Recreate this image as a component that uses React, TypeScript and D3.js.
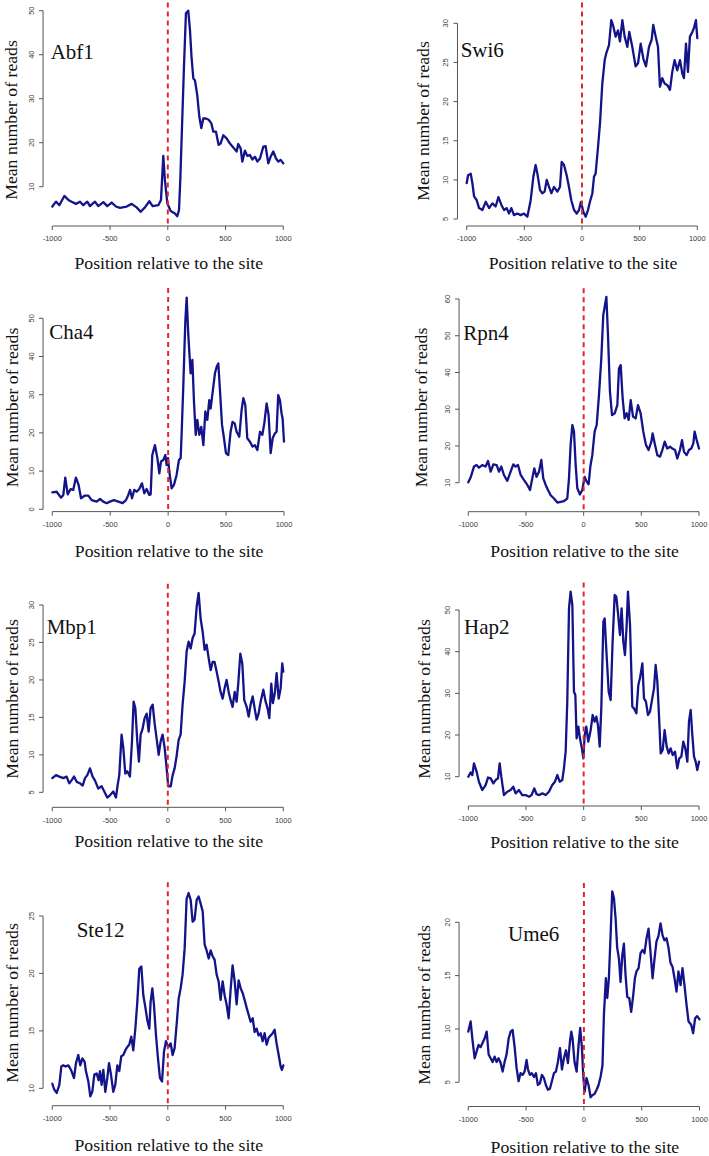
import React from "react";
import * as d3 from "d3";

// ---------- data (position relative to site, mean number of reads) ----------
const xTicks = [-1000, -500, 0, 500, 1000];
const names = ["Abf1", "Swi6", "Cha4", "Rpn4", "Mbp1", "Hap2", "Ste12", "Ume6"];
const xTitle = "Position relative to the site";
const yTitle = "Mean number of reads";

const yTicksAbf1 = [10, 20, 30, 40, 50];
const yTicksSwi6 = [5, 10, 15, 20, 25, 30];
const yTicksCha4 = [0, 10, 20, 30, 40, 50];
const yTicksRpn4 = [10, 20, 30, 40, 50, 60];
const yTicksMbp1 = [5, 10, 15, 20, 25, 30];
const yTicksHap2 = [10, 20, 30, 40, 50];
const yTicksSte12 = [10, 15, 20, 25];
const yTicksUme6 = [5, 10, 15, 20];

const yDomainAbf1 = [1.07, 51.86];
const yDomainSwi6 = [4.11, 32.66];
const yDomainCha4 = [-0.6, 57.91];
const yDomainRpn4 = [2.11, 62.94];
const yDomainMbp1 = [3.0, 32.83];
const yDomainHap2 = [2.97, 56.6];
const yDomainSte12 = [8.49, 27.94];
const yDomainUme6 = [2.73, 23.68];

const abf1: [number, number][] = [[-1000,5.5],[-968,6.6],[-939,5.8],[-896,7.9],[-861,7.0],[-833,6.6],[-795,6.1],[-760,6.6],[-732,5.8],[-697,6.6],[-674,5.6],[-631,6.6],[-602,5.6],[-558,6.5],[-524,5.6],[-486,6.4],[-449,5.5],[-414,5.2],[-356,5.5],[-313,6.1],[-270,5.3],[-235,4.3],[-198,5.3],[-160,6.7],[-131,5.6],[-82,5.8],[-59,7.0],[-39,17.0],[-25,11.5],[-4,6.2],[25,4.5],[62,3.9],[82,3.3],[97,4.7],[108,11.5],[123,23.6],[140,37.3],[157,49.4],[177,50],[192,45.6],[206,39.2],[221,34.6],[235,34.2],[255,30.8],[273,25.9],[290,23.3],[307,25.5],[330,25.5],[354,25.2],[377,24.4],[394,22.5],[417,22.5],[440,19.5],[457,19.8],[481,21.7],[509,21.0],[538,19.8],[567,18.9],[596,18.0],[610,19.7],[631,18.7],[645,15.7],[668,18.2],[688,17.0],[711,17.2],[732,16.2],[755,16.8],[775,15.7],[798,16.4],[827,19.1],[847,19.2],[870,15.3],[890,16.8],[913,18.0],[937,16.4],[957,15.7],[977,16.1],[1000,15.3]];

const swi6: [number, number][] = [[-1000,9.6],[-988,10.6],[-965,10.8],[-951,9.6],[-936,7.9],[-913,7.4],[-893,6.4],[-864,6.15],[-835,7.2],[-806,6.4],[-777,7.0],[-749,6.6],[-725,7.8],[-699,6.8],[-676,6.15],[-653,6.4],[-633,5.7],[-613,6.4],[-590,5.5],[-561,5.7],[-532,5.5],[-503,5.7],[-474,5.3],[-445,7.4],[-422,10.4],[-402,11.9],[-387,10.8],[-364,8.7],[-344,8.3],[-324,8.5],[-306,10.0],[-286,9.1],[-266,8.3],[-243,9.1],[-214,8.5],[-191,9.1],[-176,12.3],[-156,11.9],[-133,10.6],[-113,9.1],[-93,7.4],[-69,6.15],[-46,5.7],[-26,6.15],[-9,7.2],[12,5.9],[32,5.3],[52,6.15],[69,7.2],[90,8.3],[104,10.4],[118,10.8],[139,14.2],[156,17.2],[176,22.3],[197,25.3],[211,26.2],[234,27.2],[254,30.4],[272,29.6],[292,28.3],[312,29.1],[329,27.7],[350,30.4],[370,28.3],[393,27.0],[410,28.9],[436,27.0],[465,24.5],[486,24.9],[509,27.4],[532,25.5],[555,24.5],[581,27.0],[604,27.9],[618,29.8],[639,28.3],[659,27.0],[676,21.9],[696,23.0],[717,22.3],[740,22.1],[763,21.5],[783,23.8],[803,25.3],[826,24.0],[850,25.3],[870,23.6],[884,23.0],[902,27.4],[919,23.8],[936,28.3],[957,28.9],[971,29.4],[988,30.4],[1000,28.1]];

const cha4: [number, number][] = [[-1000,4.45],[-963,4.6],[-925,3.05],[-905,3.75],[-888,8.3],[-867,3.9],[-842,5.3],[-819,5.1],[-796,8.3],[-773,6.4],[-752,2.9],[-718,3.6],[-689,3.6],[-660,2.4],[-617,2.0],[-588,2.7],[-560,2.0],[-531,1.6],[-502,2.0],[-468,2.4],[-430,2.0],[-393,1.6],[-364,2.4],[-344,3.75],[-329,5.1],[-312,2.9],[-292,5.1],[-272,4.6],[-249,5.3],[-226,6.8],[-206,4.2],[-186,5.3],[-163,3.75],[-151,3.9],[-137,14.2],[-114,16.8],[-93,13.4],[-76,9.4],[-62,12.5],[-42,12.9],[-24,14.2],[-13,11.6],[-1,13.4],[10,9.9],[30,5.5],[50,6.4],[73,9.0],[93,12.9],[108,13.4],[117,20.3],[131,32.5],[148,49.1],[160,55.4],[174,45.6],[194,35.6],[209,39.1],[223,28.2],[238,19.5],[252,23.4],[269,19.5],[286,21.6],[304,16.8],[321,25.6],[338,23.4],[355,28.6],[367,26.4],[381,29.9],[404,35.6],[419,37.3],[433,38.2],[448,30.8],[465,22.1],[482,18.6],[499,14.7],[519,14.2],[539,20.3],[556,22.9],[574,22.5],[591,20.3],[614,19.0],[634,26.0],[649,29.1],[666,27.3],[683,18.6],[706,17.7],[729,16.4],[749,16.8],[770,15.5],[793,20.3],[813,19.5],[830,22.5],[850,27.7],[867,24.7],[885,14.7],[902,18.6],[922,19.9],[936,20.3],[950,29.9],[965,28.6],[979,25.1],[988,23.8],[1000,17.7]];

const rpn4: [number, number][] = [[-1000,10.1],[-980,11.4],[-951,14.4],[-928,14.8],[-908,14.1],[-879,14.8],[-850,14.4],[-829,15.9],[-806,13.0],[-783,15.0],[-754,14.8],[-734,13.0],[-714,14.4],[-691,12.1],[-662,10.5],[-633,13.0],[-610,15.0],[-590,14.4],[-569,14.8],[-546,12.1],[-517,10.7],[-488,9.4],[-465,8.0],[-445,11.2],[-428,13.9],[-408,11.6],[-387,13.0],[-367,16.2],[-350,11.2],[-329,9.4],[-309,8.0],[-286,6.6],[-257,5.7],[-228,4.6],[-199,4.8],[-171,5.0],[-142,5.7],[-127,11.2],[-113,20.3],[-98,25.7],[-84,23.9],[-69,14.8],[-55,8.5],[-32,6.8],[-12,8.0],[9,11.6],[26,10.3],[43,9.6],[58,14.4],[75,17.5],[95,23.9],[113,25.7],[133,33.9],[153,43.8],[170,55.6],[185,58.4],[197,60.6],[211,50.2],[228,34.8],[246,28.4],[269,28.9],[292,31.1],[306,41.1],[321,42.0],[338,33.0],[355,27.5],[373,28.9],[390,27.1],[408,32.5],[428,28.0],[451,27.5],[471,31.1],[494,28.9],[517,23.9],[540,20.3],[563,18.9],[587,21.2],[598,23.4],[616,20.7],[639,17.5],[662,17.1],[682,18.9],[703,21.2],[725,19.3],[749,19.8],[769,19.3],[792,18.9],[812,16.6],[835,18.9],[853,21.6],[870,18.4],[893,17.5],[913,18.9],[933,19.3],[951,20.7],[962,23.9],[980,21.6],[1000,19.3]];

const mbp1: [number, number][] = [[-1000,6.9],[-968,7.3],[-939,7.1],[-905,6.9],[-876,7.1],[-853,6.2],[-833,6.6],[-812,7.1],[-789,6.4],[-760,6.2],[-737,5.9],[-717,6.9],[-697,7.3],[-674,8.2],[-651,7.1],[-631,6.6],[-602,5.5],[-573,5.8],[-550,5.1],[-524,4.3],[-501,4.6],[-472,5.1],[-449,4.3],[-434,6.0],[-420,7.3],[-400,12.7],[-385,10.9],[-368,7.5],[-351,7.8],[-328,7.1],[-310,11.8],[-296,17.1],[-281,16.2],[-264,11.8],[-250,9.1],[-235,12.7],[-218,13.5],[-201,14.9],[-183,15.5],[-166,13.1],[-149,16.2],[-131,16.7],[-114,14.2],[-97,12.2],[-79,10.0],[-62,11.8],[-45,12.7],[-27,10.9],[-10,8.2],[4,5.8],[25,5.8],[42,7.3],[59,8.2],[76,9.8],[94,12.0],[111,12.7],[128,16.7],[146,19.8],[163,23.8],[180,25.1],[198,24.2],[215,25.6],[232,26.2],[250,29.8],[267,31.6],[284,28.2],[302,26.4],[319,24.0],[336,24.7],[354,22.9],[371,21.3],[388,22.4],[405,22.4],[423,21.1],[440,19.8],[457,18.4],[475,17.5],[492,18.9],[509,20.0],[527,18.4],[544,17.3],[561,16.4],[579,18.4],[596,17.1],[610,19.5],[628,23.5],[645,22.2],[662,17.3],[683,16.4],[700,15.1],[717,16.7],[735,17.8],[752,16.2],[769,14.7],[786,15.5],[804,17.1],[827,18.7],[847,17.1],[864,16.2],[879,14.9],[896,19.5],[910,16.9],[928,18.4],[942,20.9],[960,17.5],[977,18.9],[991,22.2],[1000,21.1]];

const hap2: [number, number][] = [[-1000,10.0],[-980,11.0],[-965,10.4],[-951,13.2],[-928,11.2],[-908,8.8],[-879,6.8],[-850,8.0],[-829,9.8],[-806,9.6],[-783,8.4],[-763,9.2],[-743,9.6],[-728,13.2],[-714,10.0],[-691,5.6],[-662,6.4],[-633,6.8],[-610,7.6],[-590,6.0],[-561,6.8],[-532,5.6],[-503,5.6],[-474,5.2],[-451,5.6],[-428,7.2],[-408,5.8],[-385,5.6],[-358,6.0],[-329,5.6],[-301,6.4],[-272,8.0],[-249,8.8],[-228,10.4],[-208,8.8],[-185,9.2],[-171,12.0],[-156,16.0],[-142,28.0],[-127,50.4],[-113,54.4],[-98,51.2],[-84,30.4],[-72,29.6],[-61,19.2],[-46,22.0],[-32,19.2],[-15,16.8],[-3,14.4],[9,20.0],[23,22.0],[40,18.4],[61,21.2],[78,24.8],[95,23.2],[110,24.4],[124,22.4],[139,17.2],[153,26.4],[171,47.2],[182,48.0],[199,39.2],[217,30.4],[234,28.4],[251,42.4],[269,53.6],[283,53.2],[298,49.2],[315,44.0],[329,50.4],[344,42.4],[358,39.2],[373,46.4],[384,54.4],[402,46.4],[422,26.8],[436,26.4],[457,25.2],[474,32.0],[488,33.6],[509,37.2],[523,28.8],[540,28.0],[558,24.8],[575,25.6],[595,28.8],[610,31.2],[624,36.8],[639,32.8],[653,24.8],[668,15.6],[685,16.4],[702,21.2],[720,17.2],[737,15.6],[754,16.8],[772,15.2],[792,16.0],[812,12.0],[829,14.4],[847,14.8],[864,18.4],[881,16.8],[899,13.6],[913,23.2],[928,26.0],[942,20.0],[957,14.8],[971,13.6],[985,11.6],[1000,13.6]];

const ste12: [number, number][] = [[-1000,10.4],[-983,9.9],[-962,9.6],[-939,10.3],[-922,11.9],[-905,12.0],[-885,11.9],[-861,12.0],[-838,11.6],[-812,10.9],[-795,12.2],[-775,12.9],[-758,12.0],[-740,12.6],[-720,12.3],[-709,11.5],[-688,10.6],[-671,9.3],[-654,9.7],[-636,11.2],[-616,11.3],[-599,10.7],[-587,11.5],[-573,10.3],[-558,11.6],[-541,9.7],[-524,10.9],[-509,12.2],[-492,11.2],[-472,9.7],[-455,10.3],[-437,12.0],[-420,11.5],[-403,12.8],[-385,12.9],[-368,13.3],[-351,13.6],[-334,13.8],[-316,14.5],[-299,13.3],[-281,15.2],[-264,17.5],[-247,20.4],[-229,20.6],[-212,18.1],[-195,17.1],[-177,15.9],[-160,15.2],[-149,17.5],[-134,18.7],[-120,17.3],[-102,14.6],[-85,12.6],[-68,10.9],[-50,10.6],[-33,13.2],[-16,14.1],[4,13.6],[25,13.9],[42,12.9],[59,13.5],[76,15.5],[94,17.8],[111,18.7],[128,19.9],[146,22.2],[163,26.5],[180,27.0],[198,26.4],[215,24.5],[232,24.7],[250,26.4],[267,26.7],[284,26.1],[302,25.4],[319,22.5],[336,22.0],[354,21.3],[371,22.0],[388,21.5],[405,21.2],[423,19.9],[440,19.3],[457,17.7],[475,19.3],[492,18.1],[509,17.3],[527,16.1],[544,18.6],[561,20.7],[579,19.3],[596,17.3],[613,19.4],[631,18.7],[648,18.3],[665,17.7],[683,17.0],[700,16.4],[717,15.8],[735,16.1],[752,14.9],[769,15.2],[786,14.6],[804,14.8],[821,14.1],[838,14.8],[856,13.8],[873,14.4],[890,14.6],[908,14.8],[925,15.1],[942,13.9],[960,12.9],[977,11.9],[988,11.6],[1000,12.0]];

const ume6: [number, number][] = [[-1000,9.75],[-980,10.7],[-965,9.1],[-945,7.25],[-928,7.9],[-911,8.5],[-893,8.3],[-876,8.7],[-859,9.1],[-841,9.75],[-824,7.6],[-807,7.25],[-790,6.9],[-772,7.4],[-755,6.9],[-738,7.25],[-720,6.8],[-703,6.0],[-686,6.9],[-669,7.6],[-651,9.1],[-634,9.75],[-617,9.9],[-599,8.3],[-582,6.3],[-565,5.1],[-548,5.85],[-530,5.7],[-513,6.0],[-496,7.1],[-484,6.2],[-467,5.7],[-450,5.85],[-432,5.5],[-415,5.85],[-398,4.75],[-380,4.9],[-363,5.7],[-346,5.4],[-329,4.75],[-311,4.3],[-294,4.4],[-277,5.1],[-259,5.85],[-242,6.0],[-225,6.9],[-207,8.2],[-190,6.2],[-173,7.25],[-155,8.0],[-138,6.8],[-121,8.8],[-109,9.75],[-98,9.1],[-81,6.9],[-63,6.0],[-46,8.5],[-32,10.1],[-17,8.2],[-6,5.7],[6,4.1],[23,5.4],[40,4.75],[58,3.6],[75,3.8],[92,3.9],[110,4.3],[127,4.75],[144,5.5],[161,6.6],[173,11.3],[190,14.75],[202,12.9],[216,14.75],[231,18.8],[245,22.9],[260,22.25],[274,20.4],[288,17.6],[303,16.6],[317,14.4],[332,16.9],[346,18.0],[360,15.1],[375,13.0],[392,12.9],[409,11.6],[427,13.2],[441,14.75],[455,15.4],[473,15.7],[490,17.1],[507,17.4],[524,17.1],[542,18.5],[559,19.4],[576,17.25],[594,14.75],[611,16.6],[628,18.2],[645,18.7],[663,19.9],[680,18.8],[697,18.3],[715,18.5],[732,17.6],[749,16.2],[767,15.8],[784,14.75],[801,13.5],[818,15.4],[836,14.1],[853,15.7],[870,14.1],[888,12.25],[905,10.7],[928,10.4],[945,9.6],[962,11.0],[980,11.2],[1000,10.9]];

const series = [abf1, swi6, cha4, rpn4, mbp1, hap2, ste12, ume6];
const yTicksAll = [yTicksAbf1, yTicksSwi6, yTicksCha4, yTicksRpn4, yTicksMbp1, yTicksHap2, yTicksSte12, yTicksUme6];
const yDomains = [yDomainAbf1, yDomainSwi6, yDomainCha4, yDomainRpn4, yDomainMbp1, yDomainHap2, yDomainSte12, yDomainUme6];

// ---------- layout (pixels) ----------
const PLOT_H = 223.5;
const layout = [
  { xL: 52.3, xR: 283.3, bottom: 226, labX: 50.7, labY: 59, titleY: 269.3, ylabX: 17, ylabY: 120 },
  { xL: 466.7, xR: 697.3, bottom: 226, labX: 460.7, labY: 57.3, titleY: 268.8, ylabX: 428.5, ylabY: 121 },
  { xL: 52.3, xR: 284, bottom: 511.6, labX: 49.3, labY: 339.3, titleY: 556.7, ylabX: 17.7, ylabY: 407.5 },
  { xL: 468.3, xR: 699, bottom: 511.7, labX: 463.3, labY: 340, titleY: 556.7, ylabX: 427, ylabY: 407.5 },
  { xL: 52.3, xR: 283.3, bottom: 807.3, labX: 46.7, labY: 634, titleY: 847.3, ylabX: 17.7, ylabY: 699 },
  { xL: 468.3, xR: 699, bottom: 806, labX: 464, labY: 634.3, titleY: 847.7, ylabX: 430, ylabY: 699 },
  { xL: 52.3, xR: 283.3, bottom: 1105.7, labX: 76.7, labY: 936.7, titleY: 1150.7, ylabX: 17.7, ylabY: 1003 },
  { xL: 468.3, xR: 699.5, bottom: 1106.5, labX: 508, labY: 941, titleY: 1152.7, ylabX: 430, ylabY: 1005 },
];

const LINE_COLOR = "#13138a";
const RED = "#e3262c";
const AXIS_COLOR = "#555";
const TICK_TEXT = "#3a3a3a";
const SERIF = "'Liberation Serif', 'Times New Roman', serif";
const SANS = "'Liberation Sans', Arial, sans-serif";

function Panel({ i }: { i: number }) {
  const L = layout[i];
  const data = series[i];
  const yTicks = yTicksAll[i];
  const x = d3.scaleLinear().domain([-1000, 1000]).range([L.xL, L.xR]);
  const y = d3.scaleLinear().domain(yDomains[i]).range([L.bottom, L.bottom - PLOT_H]);
  const axisX = x(-1080);
  const top = L.bottom - PLOT_H;
  const line = d3
    .line<[number, number]>()
    .x((d) => x(d[0]))
    .y((d) => y(d[1]));
  const yFirst = y(yTicks[0]);
  const yLast = y(yTicks[yTicks.length - 1]);
  return (
    <g>
      {/* y axis */}
      <line x1={axisX} x2={axisX} y1={yFirst} y2={yLast} stroke={AXIS_COLOR} strokeWidth={1} />
      {yTicks.map((t) => (
        <g key={"yt" + t}>
          <line x1={axisX - 4} x2={axisX} y1={y(t)} y2={y(t)} stroke={AXIS_COLOR} strokeWidth={1} />
          <text
            transform={`translate(${axisX - 9.5},${y(t)}) rotate(-90)`}
            textAnchor="middle"
            fontFamily={SANS}
            fontSize={7.5}
            fill={TICK_TEXT}
          >
            {t}
          </text>
        </g>
      ))}
      {/* x axis */}
      <line x1={x(-1000)} x2={x(1000)} y1={L.bottom} y2={L.bottom} stroke={AXIS_COLOR} strokeWidth={1} />
      {xTicks.map((t) => (
        <g key={"xt" + t}>
          <line x1={x(t)} x2={x(t)} y1={L.bottom} y2={L.bottom + 4} stroke={AXIS_COLOR} strokeWidth={1} />
          <text x={x(t)} y={L.bottom + 15.3} textAnchor="middle" fontFamily={SANS} fontSize={7.5} fill={TICK_TEXT}>
            {t}
          </text>
        </g>
      ))}
      {/* signal */}
      <path d={line(data) || ""} fill="none" stroke={LINE_COLOR} strokeWidth={2.3} strokeLinejoin="round" strokeLinecap="round" />
      {/* site marker */}
      <line x1={x(0)} x2={x(0)} y1={top} y2={L.bottom} stroke={RED} strokeWidth={2} strokeDasharray="5 4" />
      {/* labels */}
      <text x={L.labX} y={L.labY} fontFamily={SERIF} fontSize={21} fill="#111">
        {names[i]}
      </text>
      <text x={(L.xL + L.xR) / 2 + 1} y={L.titleY} textAnchor="middle" fontFamily={SERIF} fontSize={17.7} fill="#111">
        {xTitle}
      </text>
      <text
        transform={`translate(${L.ylabX},${L.ylabY}) rotate(-90)`}
        textAnchor="middle"
        fontFamily={SERIF}
        fontSize={17.7}
        fill="#111"
      >
        {yTitle}
      </text>
    </g>
  );
}

export default function App() {
  return (
    <svg
      width={709}
      height={1156}
      viewBox="0 0 709 1156"
      style={{ position: "absolute", left: 0, top: 0, background: "#fff" }}
    >
      <rect x={0} y={0} width={709} height={1156} fill="#fff" />
      {names.map((_, i) => (
        <Panel key={i} i={i} />
      ))}
    </svg>
  );
}
